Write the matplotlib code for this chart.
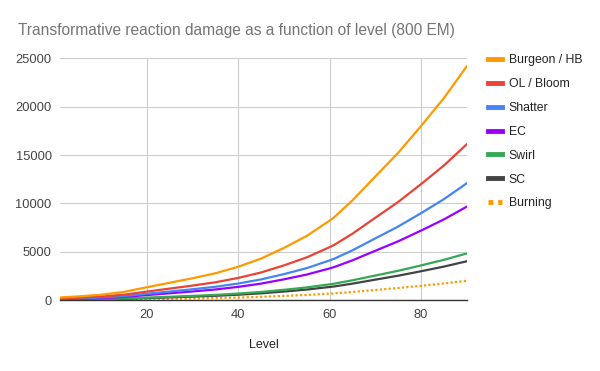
import matplotlib
matplotlib.use("Agg")
import matplotlib.pyplot as plt
from matplotlib.lines import Line2D

plt.rcParams["font.family"] = ["Liberation Sans", "DejaVu Sans"]

# Levels and damage values (800 EM)
levels = [1, 5, 10, 15, 20, 25, 30, 35, 40, 45, 50, 55, 60, 61, 65, 70, 75, 80, 85, 90]

burgeon = [287, 401, 571, 869, 1347, 1812, 2278, 2791, 3466, 4312,
           5409, 6652, 8238, 8584, 10329, 12797, 15243, 18008, 20893, 24183]
bloom = [191, 267, 381, 579, 898, 1208, 1519, 1861, 2311, 2875,
         3606, 4435, 5492, 5723, 6886, 8531, 10162, 12005, 13929, 16122]
shatter = [144, 201, 286, 435, 674, 906, 1139, 1396, 1733, 2156,
           2705, 3326, 4119, 4292, 5165, 6399, 7622, 9004, 10447, 12092]
ec = [115, 160, 228, 348, 539, 725, 911, 1116, 1386, 1725,
      2164, 2661, 3295, 3434, 4132, 5119, 6097, 7203, 8357, 9673]
swirl = [57, 80, 114, 174, 269, 362, 456, 558, 693, 862,
         1082, 1330, 1648, 1717, 2066, 2559, 3049, 3602, 4179, 4837]
sc = [48, 67, 95, 145, 224, 302, 380, 465, 578, 719,
      902, 1109, 1373, 1431, 1722, 2133, 2541, 3001, 3482, 4031]
burning = [24, 33, 48, 72, 112, 151, 190, 233, 289, 359,
           451, 554, 687, 715, 861, 1066, 1270, 1501, 1741, 2015]

series = [
    ("Burgeon / HB", burgeon, "#ff9900", "-"),
    ("OL / Bloom", bloom, "#ea4335", "-"),
    ("Shatter", shatter, "#4285f4", "-"),
    ("EC", ec, "#9900ff", "-"),
    ("Swirl", swirl, "#34a853", "-"),
    ("SC", sc, "#434343", "-"),
    ("Burning", burning, "#ff9900", (0, (1, 1))),
]

fig = plt.figure(figsize=(6, 3.71), dpi=100)
ax = fig.add_axes([0.1, 0.1906, 0.678, 0.6523])

for name, vals, color, ls in reversed(series):
    ax.plot(levels, vals, color=color, linestyle=ls, linewidth=1.6, label=name,
            solid_joinstyle="round")

ax.set_xlim(1, 90)
ax.set_ylim(0, 25000)
ax.set_xticks([20, 40, 60, 80])
ax.set_yticks(range(0, 25001, 5000))
ax.grid(True, color="#cccccc", linewidth=0.8)
ax.set_axisbelow(True)
for s in ["top", "right", "left"]:
    ax.spines[s].set_visible(False)
ax.spines["bottom"].set_color("#333333")
ax.spines["bottom"].set_linewidth(1.0)
ax.tick_params(axis="both", length=0, labelsize=9.3, labelcolor="#444444")
ax.tick_params(axis="y", pad=6)
ax.tick_params(axis="x", pad=6)
ax.set_xlabel("Level", fontsize=9, color="#222222", labelpad=13)

fig.text(0.03, 1 - 35 / 371, "Transformative reaction damage as a function of level (800 EM)",
         fontsize=11.2, color="#757575", va="baseline", ha="left")

# legend on the right
handles = [Line2D([0], [0], color=c, linestyle=ls, linewidth=3.5)
           for _, _, c, ls in series]
labels = [n for n, _, _, _ in series]
fig.legend(handles, labels, loc="upper left", bbox_to_anchor=(0.813, 1 - 54.3 / 371),
           frameon=False, fontsize=8.8, labelcolor="#222222", handlelength=1.15,
           handletextpad=0.55, labelspacing=0.97, borderaxespad=0, borderpad=0)

fig.savefig("out.png", dpi=100)
